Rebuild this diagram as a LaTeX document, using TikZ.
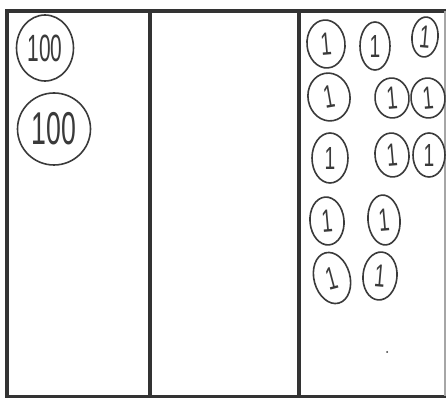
\documentclass[tikz,border=0pt]{standalone}
\usepackage{graphicx}
\usepackage{fontspec}
\setmainfont{Liberation Sans}
\usetikzlibrary{shapes.geometric}
\definecolor{ink}{HTML}{333333}
\definecolor{pen}{HTML}{3A3A3A}
\newcommand{\thinone}{\scalebox{0.6}[1]{1}}
\begin{document}
\begin{tikzpicture}[x=1pt,y=-1pt,
  frame/.style={draw=ink,line width=4.5pt},
  coin/.style={ellipse,draw=pen,line width=1.6pt,inner sep=0pt,text=pen},
  hundred/.style={coin,font=\fontsize{38}{38}\selectfont},
  one/.style={coin,font=\fontsize{32}{32}\selectfont}]
\useasboundingbox (0,0) rectangle (448,398);
\fill[white] (0,0) rectangle (448,398);
% chart frame
\draw[frame] (7,396) -- (7,11) -- (446,11);
\draw[draw=ink,line width=3pt] (5,396.5) -- (446,396.5);
\draw[draw=gray!70,line width=1.5pt] (445,11) -- (445,396);
\draw[frame] (150,11) -- (150,396);
\draw[frame] (299,11) -- (299,396);
% hundreds
\node[hundred,minimum width=57pt,minimum height=66pt] (h1) at (45,48) {\scalebox{0.55}[1]{100}};
\node[hundred,minimum width=73pt,minimum height=72pt,font=\fontsize{46}{46}\selectfont] (h2) at (54,129) {\scalebox{0.58}[1]{100}};
% ones
\node[one,minimum width=38pt,minimum height=48pt,rotate=5] (o1) at (326,44) {\thinone};
\node[one,minimum width=30pt,minimum height=48pt] (o2) at (375,46) {\thinone};
\node[one,minimum width=26pt,minimum height=40pt,rotate=-5] (o3) at (425,37) {\thinone};
\node[one,minimum width=42pt,minimum height=48pt,rotate=10] (o4) at (329,97) {\thinone};
\node[one,minimum width=34pt,minimum height=40pt,rotate=5] (o5) at (392,98) {\thinone};
\node[one,minimum width=34pt,minimum height=40pt,rotate=5] (o6) at (428,98) {\thinone};
\node[one,minimum width=36pt,minimum height=50pt] (o7) at (330,158) {\thinone};
\node[one,minimum width=34pt,minimum height=44pt,rotate=5] (o8) at (392,155) {\thinone};
\node[one,minimum width=32pt,minimum height=44pt] (o9) at (429,155) {\thinone};
\node[one,minimum width=34pt,minimum height=48pt,rotate=5] (o10) at (327,221) {\thinone};
\node[one,minimum width=32pt,minimum height=50pt,rotate=5] (o11) at (384,220) {\thinone};
\node[one,minimum width=36pt,minimum height=52pt,rotate=15] (o12) at (332,278) {\thinone};
\node[one,minimum width=34pt,minimum height=48pt,rotate=-5] (o13) at (380,276) {\thinone};
\fill[pen] (387,352) circle (1pt);
\end{tikzpicture}
\end{document}
